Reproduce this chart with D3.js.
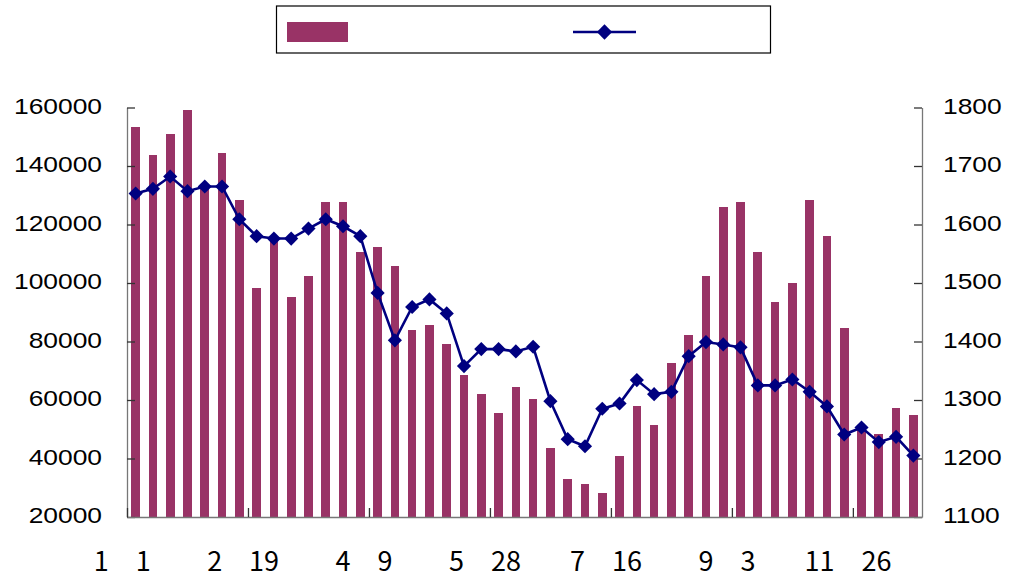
<!DOCTYPE html>
<html>
<head>
<meta charset="utf-8">
<script src="https://cdn.jsdelivr.net/npm/d3@7"></script>
<style>
  body { margin: 0; background: #fff; }
</style>
</head>
<body>
<script>
// weekly values
const barValues = [153300, 143700, 150900, 159000, 132000, 144400, 128300, 98200, 115000, 95100,
    102300, 127600, 127600, 110500, 112200, 105700, 83800, 85500, 79100, 68500,
    62000, 55500, 64400, 60200, 43500, 32900, 31200, 28100, 40800, 57900,
    51400, 72600, 82100, 102300, 125900, 127600, 110500, 93400, 99900, 128300,
    116000, 84500, 50000, 48300, 57200, 54800];
const lineValues = [1653, 1661, 1682, 1657, 1665, 1665, 1609, 1580, 1576, 1576,
    1593, 1609, 1597, 1580, 1483, 1402, 1459, 1472, 1448, 1358,
    1387, 1387, 1383, 1391, 1298, 1233, 1221, 1285, 1294, 1334,
    1310, 1314, 1375, 1399, 1395, 1390, 1325, 1325, 1335, 1314,
    1289, 1241, 1253, 1228, 1237, 1205];
// category labels (month / day), one every 7 weeks
const labelMonths = [1, 2, 4, 5, 7, 9, 11];
const labelDays = [1, 19, 9, 28, 16, 3, 26];
const leftTicks = [20000, 40000, 60000, 80000, 100000, 120000, 140000, 160000];
const rightTicks = [1100, 1200, 1300, 1400, 1500, 1600, 1700, 1800];

const canvWidth = 1018, canvHeight = 579;
const svg = d3.select("body").append("svg")
    .attr("width", canvWidth)
    .attr("height", canvHeight);

const plot = {left: 127, right: 922, top: 107.5, bottom: 517};
const barColor = "#993366", lineColor = "#000080";
const stretch = 1.2;  // axis numbers look horizontally stretched

const idx = d3.range(barValues.length);
const xBand = d3.scaleBand()
    .domain(idx)
    .range([plot.left, plot.right])
    .paddingInner(0.5)
    .paddingOuter(0.25);
const xCat = d3.scaleLinear()
    .domain([0, barValues.length])
    .range([plot.left, plot.right]);
const yLeft = d3.scaleLinear()
    .domain([20000, 160000])
    .range([plot.bottom, plot.top]);
const yRight = d3.scaleLinear()
    .domain([1100, 1800])
    .range([plot.bottom, plot.top]);

// bars
svg.append("g")
    .selectAll("rect")
    .data(barValues)
    .enter()
    .append("rect")
    .attr("x", (d, i) => xBand(i))
    .attr("y", d => yLeft(d))
    .attr("width", xBand.bandwidth())
    .attr("height", d => plot.bottom - yLeft(d))
    .attr("fill", barColor)
    .attr("shape-rendering", "crispEdges");

// axes
const leftAxis = svg.append("g")
    .attr("transform", "translate(" + plot.left + ",0)")
    .call(d3.axisLeft(yLeft).tickValues(leftTicks).tickSizeInner(-8).tickSizeOuter(0).tickPadding(25)
        .tickFormat(d3.format("d")));
const rightAxis = svg.append("g")
    .attr("transform", "translate(" + plot.right + ",0)")
    .call(d3.axisRight(yRight).tickValues(rightTicks).tickSizeInner(-8).tickSizeOuter(0).tickPadding(21)
        .tickFormat(d3.format("d")));
const bottomAxis = svg.append("g")
    .attr("transform", "translate(0," + plot.bottom + ")")
    .call(d3.axisBottom(xCat).tickValues(d3.range(0, barValues.length, 7)).tickSizeInner(-9).tickSizeOuter(0)
        .tickFormat(""));

[leftAxis, rightAxis, bottomAxis].forEach(a => {
    a.select(".domain").attr("stroke", "#777").attr("stroke-width", 1.3);
    a.selectAll(".tick line").attr("stroke", "#333").attr("stroke-width", 1.3);
});

leftAxis.selectAll("text")
    .attr("x", -25 / stretch)
    .attr("dy", "0.26em")
    .attr("transform", "scale(" + stretch + ",1)")
    .attr("font-family", "'Liberation Sans', Arial, sans-serif")
    .attr("font-size", "22px")
    .attr("fill", "#000");
rightAxis.selectAll("text")
    .attr("x", 21 / stretch)
    .attr("dy", "0.26em")
    .attr("transform", "scale(" + stretch + ",1)")
    .attr("font-family", "'Liberation Sans', Arial, sans-serif")
    .attr("font-size", "22px")
    .attr("fill", "#000");

// category labels, month and day with wide gaps where the glyphs were
svg.append("g")
    .selectAll("text")
    .data(labelMonths)
    .enter()
    .append("text")
    .attr("x", (d, i) => xBand(i * 7) + xBand.bandwidth() / 2)
    .attr("y", 571)
    .attr("font-family", "'Noto Sans CJK SC', sans-serif")
    .attr("font-size", "27px")
    .style("text-anchor", "middle")
    .style("white-space", "pre")
    .text((d, i) => d + "\u3000" + labelDays[i] + "\u3000");

// line series
const line = d3.line()
    .x((d, i) => xBand(i) + xBand.bandwidth() / 2)
    .y(d => yRight(d));
svg.append("path")
    .datum(lineValues)
    .attr("d", line)
    .attr("fill", "none")
    .attr("stroke", lineColor)
    .attr("stroke-width", 2.6);

const diamond = d3.symbol().type(d3.symbolDiamond2).size(128);
svg.append("g")
    .selectAll("path")
    .data(lineValues)
    .enter()
    .append("path")
    .attr("transform", (d, i) => "translate(" + (xBand(i) + xBand.bandwidth() / 2) + "," + yRight(d) + ")")
    .attr("d", diamond)
    .attr("fill", lineColor);

// legend
const legend = svg.append("g");
legend.append("rect")
    .attr("x", 276.5)
    .attr("y", 6)
    .attr("width", 494)
    .attr("height", 47)
    .attr("fill", "#fff")
    .attr("stroke", "#000")
    .attr("stroke-width", 1.2);
legend.append("rect")
    .attr("x", 287)
    .attr("y", 22)
    .attr("width", 61)
    .attr("height", 20)
    .attr("fill", barColor);
legend.append("line")
    .attr("x1", 573)
    .attr("x2", 636)
    .attr("y1", 32)
    .attr("y2", 32)
    .attr("stroke", lineColor)
    .attr("stroke-width", 2.6);
legend.append("path")
    .attr("transform", "translate(604.5,32)")
    .attr("d", d3.symbol().type(d3.symbolDiamond2).size(150))
    .attr("fill", lineColor);
</script>
</body>
</html>
